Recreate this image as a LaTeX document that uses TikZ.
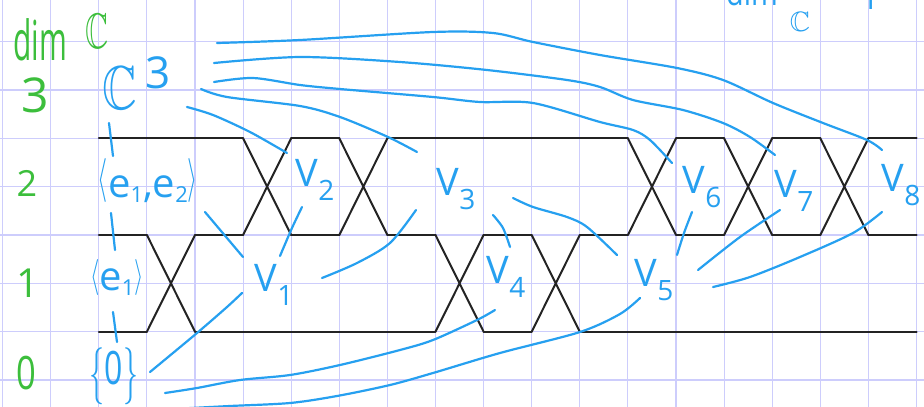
\documentclass[tikz,border=0pt]{standalone}
\usepackage{fontspec}
\usepackage{amssymb}
\usepackage{graphicx}
\setmainfont{Open Sans}
\definecolor{ink}{RGB}{38,160,240}
\definecolor{grn}{RGB}{60,190,60}
\definecolor{gridc}{RGB}{205,205,252}
\definecolor{braidc}{RGB}{35,35,35}
\newcommand\fs[1]{\fontsize{#1}{#1}\selectfont}
\newcommand\vsub[1]{\raisebox{-14pt}{\fs{28}#1}}
\newcommand\esub[1]{\raisebox{-5pt}{\fs{22}#1}}
\newcommand\msym[3]{\scalebox{#1}[#2]{\fs{10}$#3$}}
\tikzset{
  gridline/.style={gridc, line width=1.1pt},
  braid/.style={braidc, line width=2pt, line cap=round, line join=round},
  inkline/.style={ink, line width=2.2pt, line cap=round, line join=round},
  gtext/.style={grn, inner sep=0pt, anchor=center},
  btext/.style={ink, inner sep=0pt, anchor=center},
  vlab/.style={btext, font=\fs{38}},
}
\begin{document}
\begin{tikzpicture}[x=1pt,y=-1pt]
\useasboundingbox (0,0) rectangle (924,407);
\clip (0,0) rectangle (924,407);
\fill[white] (0,0) rectangle (924,407);
% grid
\foreach \k in {0,...,19} \draw[gridline] ({2.6+48.1*\k},0) -- ({2.6+48.1*\k},407);
\foreach \k in {0,...,7} \draw[gridline] (0,{41.7+48.33*\k}) -- (924,{41.7+48.33*\k});
% braid: horizontal pieces
\foreach \a/\b in {2/3,4/9,10/11,12/19}
  \draw[braid] ({2.6+48.1*\a},331.7) -- ({2.6+48.1*\b},331.7);
\foreach \a/\b in {2/3,4/5,6/7,8/9,10/11,12/13,14/15,16/17,18/19}
  \draw[braid] ({2.6+48.1*\a},235) -- ({2.6+48.1*\b},235);
\foreach \a/\b in {2/5,6/7,8/13,14/15,16/17,18/19}
  \draw[braid] ({2.6+48.1*\a},138.3) -- ({2.6+48.1*\b},138.3);
% braid: crossings
\foreach \k in {3,9,11}
  \draw[braid] ({2.6+48.1*\k},331.7) -- ({2.6+48.1*(\k+1)},235)
               ({2.6+48.1*\k},235) -- ({2.6+48.1*(\k+1)},331.7);
\foreach \k in {5,7,13,15,17}
  \draw[braid] ({2.6+48.1*\k},235) -- ({2.6+48.1*(\k+1)},138.3)
               ({2.6+48.1*\k},138.3) -- ({2.6+48.1*(\k+1)},235);
% green dimension labels
\node[gtext] (dim) at (40,40) {\scalebox{0.65}[1.2]{\fs{46}dim}};
\node[gtext] (dimC) at (97,31) {\msym{3.2}{5}{\mathbb{C}}};
\node[gtext] (d3) at (35,95) {\fs{48}3};
\node[gtext] (d2) at (27,183) {\fs{36}2};
\node[gtext] (d1) at (28,283) {\fs{40}1};
\node[gtext] (d0) at (26,373) {\scalebox{0.75}[1]{\fs{46}0}};
% blue left labels
\node[btext] (C3) at (120,88) {\msym{4.8}{6.2}{\mathbb{C}}};
\node[btext] (C3sup) at (158,73) {\fs{44}3};
\node[btext] (E12) at (148,181) {\fs{40}\raisebox{6pt}{\msym{2.6}{4.4}{\langle}}e\esub{1},e\esub{2}\raisebox{6pt}{\msym{2.6}{4.4}{\rangle}}};
\node[btext] (E1) at (117,277) {\fs{40}\raisebox{4pt}{\msym{2.4}{3.6}{\langle}}e\esub{1}\raisebox{4pt}{\msym{2.4}{3.6}{\rangle}}};
\node[btext] (Z) at (114,376) {\fs{40}\raisebox{-6pt}{\msym{3}{5.7}{\{}}\scalebox{0.8}[1.15]{0}\raisebox{-6pt}{\msym{3}{5.7}{\}}}};
% top right partial label
\node[btext] (dimT) at (752,-8) {\scalebox{0.8}[1]{\fs{36}dim}};
\node[btext] (CT) at (800,22) {\msym{2.8}{2.8}{\mathbb{C}}};
\node[btext] (oneT) at (870,-2) {\fs{32}1};
% V labels
\node[vlab] (v1) at (274,285) {V\vsub{1}};
\node[vlab] (v2) at (315,180) {V\vsub{2}};
\node[vlab] (v3) at (456,189) {V\vsub{3}};
\node[vlab] (v4) at (506,277) {V\vsub{4}};
\node[vlab] (v5) at (654,280) {V\vsub{5}};
\node[vlab] (v6) at (702,187) {V\vsub{6}};
\node[vlab] (v7) at (794,191) {V\vsub{7}};
\node[vlab] (v8) at (901,185) {V\vsub{8}};
% inclusion strokes
\coordinate (s1a) at (109,123); \coordinate (s1b) at (113,156);
\coordinate (s2a) at (111,213); \coordinate (s2b) at (115,250);
\coordinate (s3a) at (113,312); \coordinate (s3b) at (117,342);
\draw[inkline] (s1a) -- (s1b);
\draw[inkline] (s2a) -- (s2b);
\draw[inkline] (s3a) -- (s3b);
% curves from C^3
\coordinate (c1a) at (217,43);  \coordinate (c1b) at (882,150);
\coordinate (c2a) at (214,63);  \coordinate (c2b) at (775,155);
\coordinate (c3a) at (214,82);  \coordinate (c3b) at (672,163);
\coordinate (c4a) at (201,89);  \coordinate (c4b) at (417,152);
\coordinate (c5a) at (187,107); \coordinate (c5b) at (287,153);
\draw[inkline] plot[smooth, tension=0.5] coordinates {(c1a) (300,40) (433,32) (493,33) (533,42) (600,55) (677,68) (723,80) (773,103) (823,123) (867,140) (c1b)};
\draw[inkline] plot[smooth, tension=0.5] coordinates {(c2a) (300,57) (400,62) (487,70) (567,80) (600,87) (633,100) (683,110) (723,123) (750,137) (c2b)};
\draw[inkline] plot[smooth, tension=0.5] coordinates {(c3a) (253,78) (300,85) (340,89) (433,97) (480,102) (533,103) (600,122) (633,130) (650,140) (c3b)};
\draw[inkline] plot[smooth, tension=0.5] coordinates {(c4a) (227,97) (300,106) (340,117) (388,137) (c4b)};
\draw[inkline] plot[smooth, tension=0.5] coordinates {(c5a) (213,115) (250,132) (c5b)};
% other connectors
\coordinate (m1a) at (205,212); \coordinate (m1b) at (243,257);
\coordinate (m2a) at (302,207); \coordinate (m2b) at (280,256);
\coordinate (m3a) at (416,210); \coordinate (m3b) at (322,278);
\coordinate (m4a) at (242,293); \coordinate (m4b) at (150,372);
\coordinate (m5a) at (493,215); \coordinate (m5b) at (510,247);
\coordinate (m6a) at (513,198); \coordinate (m6b) at (617,255);
\coordinate (m7a) at (495,310); \coordinate (m7b) at (165,393);
\coordinate (m8a) at (640,298); \coordinate (m8b) at (172,409);
\coordinate (m9a) at (692,212); \coordinate (m9b) at (677,255);
\coordinate (m10a) at (780,210); \coordinate (m10b) at (698,270);
\coordinate (m11a) at (882,212); \coordinate (m11b) at (713,287);
\draw[inkline] (m1a) -- (m1b);
\draw[inkline] plot[smooth] coordinates {(m2a) (292,228) (m2b)};
\draw[inkline] plot[smooth, tension=0.5] coordinates {(m3a) (390,243) (357,263) (m3b)};
\draw[inkline] plot[smooth, tension=0.5] coordinates {(m4a) (227,307) (197,333) (m4b)};
\draw[inkline] plot[smooth] coordinates {(m5a) (503,228) (m5b)};
\draw[inkline] plot[smooth, tension=0.5] coordinates {(m6a) (533,207) (567,217) (587,227) (m6b)};
\draw[inkline] plot[smooth, tension=0.5] coordinates {(m7a) (477,320) (433,340) (400,350) (340,365) (290,375) (240,380) (197,388) (m7b)};
\draw[inkline] plot[smooth, tension=0.5] coordinates {(m8a) (620,314) (580,332) (500,353) (433,373) (390,385) (337,396) (290,403) (230,406) (m8b)};
\draw[inkline] plot[smooth] coordinates {(m9a) (684,233) (m9b)};
\draw[inkline] plot[smooth, tension=0.5] coordinates {(m10a) (740,237) (m10b)};
\draw[inkline] plot[smooth, tension=0.5] coordinates {(m11a) (853,233) (800,257) (750,277) (m11b)};
\end{tikzpicture}
\end{document}
